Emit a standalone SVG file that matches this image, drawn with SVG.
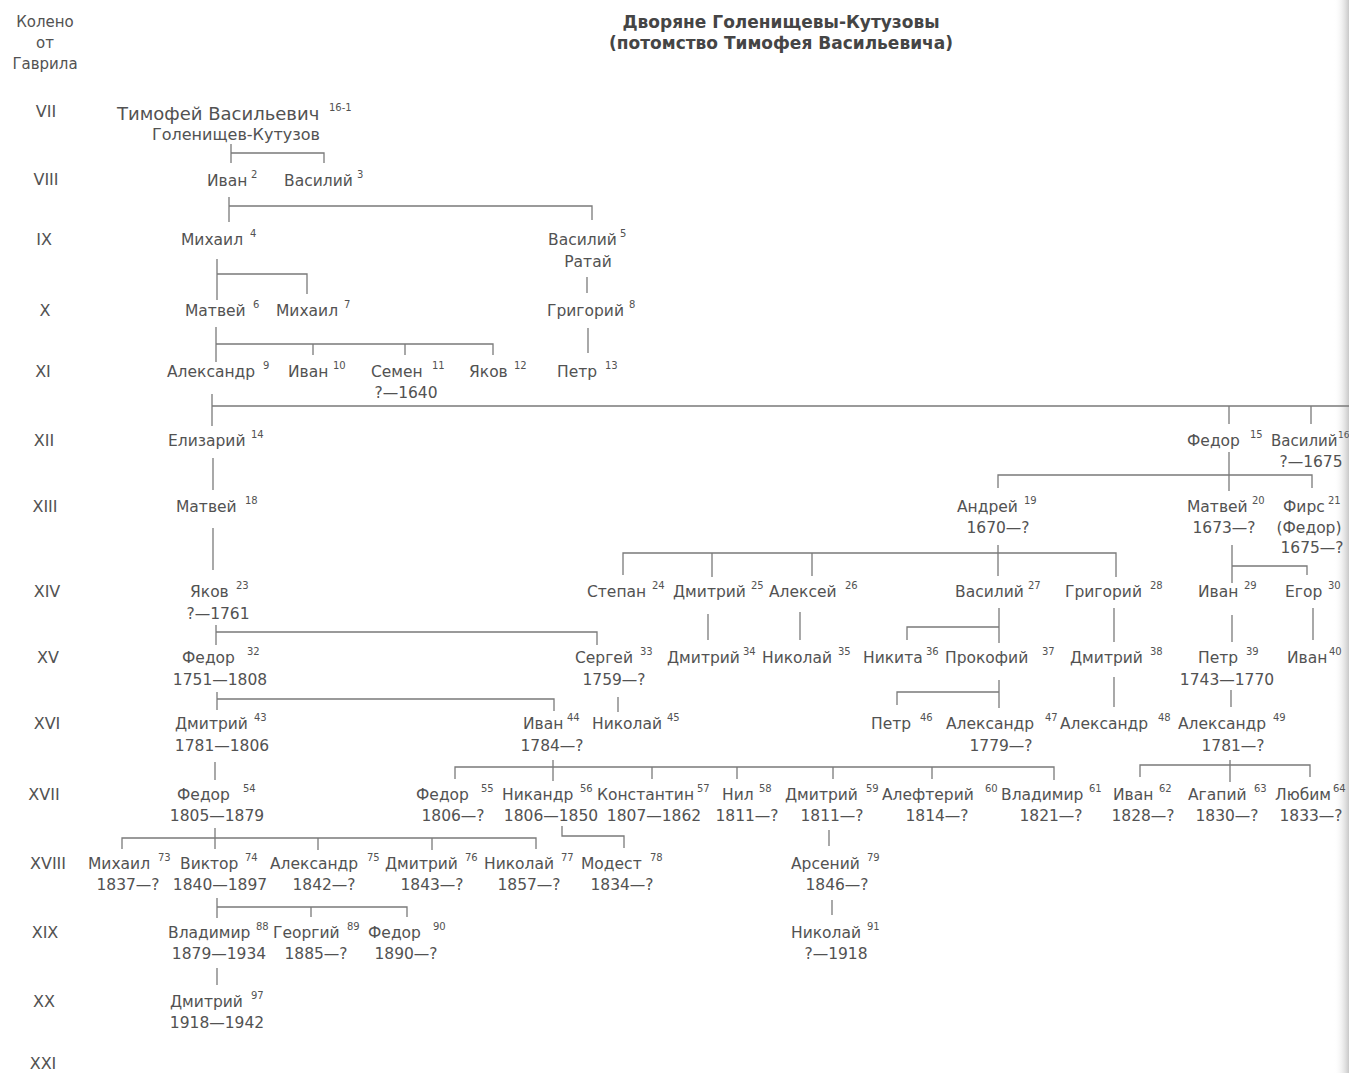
<svg xmlns="http://www.w3.org/2000/svg" width="1349" height="1073" viewBox="0 0 1349 1073">
<defs>
<style>
text{font-family:"DejaVu Sans","Liberation Sans",sans-serif;fill:#525252}
.nm{font-size:15.5px}
.dt{font-size:15.5px;text-anchor:middle}
.sp{font-size:10px}
.gen{font-size:16px;text-anchor:middle}
.hd{font-size:15px;text-anchor:middle}
.ttl{font-size:17px;font-weight:bold;text-anchor:middle;fill:#454545}
.ln{fill:none;stroke:#7a7a7a;stroke-width:1.3}
</style>
<linearGradient id="edge" x1="0" y1="0" x2="1" y2="0">
<stop offset="0" stop-color="#ffffff" stop-opacity="0"/>
<stop offset="1" stop-color="#c8c8c8"/>
</linearGradient>
</defs>
<rect width="1349" height="1073" fill="#ffffff"/>
<rect x="1334" y="0" width="15" height="1073" fill="url(#edge)"/>

<g id="title">
<text class="ttl" x="781" y="28">Дворяне Голенищевы-Кутузовы</text>
<text class="ttl" x="781" y="49">(потомство Тимофея Васильевича)</text>
</g>

<g id="generations">
<text class="hd" x="45" y="27">Колено</text>
<text class="hd" x="45" y="48">от</text>
<text class="hd" x="45" y="69">Гаврила</text>
<text class="gen" x="46" y="117">VII</text>
<text class="gen" x="46" y="185">VIII</text>
<text class="gen" x="44" y="245">IX</text>
<text class="gen" x="45" y="316">X</text>
<text class="gen" x="43" y="377">XI</text>
<text class="gen" x="44" y="446">XII</text>
<text class="gen" x="45" y="512">XIII</text>
<text class="gen" x="47" y="597">XIV</text>
<text class="gen" x="48" y="663">XV</text>
<text class="gen" x="47" y="729">XVI</text>
<text class="gen" x="44" y="800">XVII</text>
<text class="gen" x="48" y="869">XVIII</text>
<text class="gen" x="45" y="938">XIX</text>
<text class="gen" x="44" y="1007">XX</text>
<text class="gen" x="43" y="1069">XXI</text>
</g>

<g id="connectors">
<path class="ln" d="M231,144V163M231,153H324V163"/>
<path class="ln" d="M229,197V222M229,206H592V220"/>
<path class="ln" d="M217,259V300M217,274H307V294"/>
<path class="ln" d="M587,277V293"/>
<path class="ln" d="M216,327V362M216,344H493V355M313,344V355M405,344V355"/>
<path class="ln" d="M588,328V353"/>
<path class="ln" d="M212,394V426M212,406H1349M1229,406V424M1311,406V424"/>
<path class="ln" d="M213,458V490"/>
<path class="ln" d="M1229,452V491M998,488V475H1312V488"/>
<path class="ln" d="M213,528V570"/>
<path class="ln" d="M998,545V576M623,575V553H1116V577M712,553V577M812,553V576"/>
<path class="ln" d="M1232,545V583M1232,566H1307V575"/>
<path class="ln" d="M216,625V645M216,632H597V645"/>
<path class="ln" d="M708,614V640"/>
<path class="ln" d="M800,612V640"/>
<path class="ln" d="M999,608V643M907,640V627H999"/>
<path class="ln" d="M1114,608V642"/>
<path class="ln" d="M1232,615V642"/>
<path class="ln" d="M1313,608V640"/>
<path class="ln" d="M217,692V710M217,699H554V711"/>
<path class="ln" d="M618,697V712"/>
<path class="ln" d="M999,680V708M897,705V692H999"/>
<path class="ln" d="M1114,677V707"/>
<path class="ln" d="M1231,690V707"/>
<path class="ln" d="M215,762V780"/>
<path class="ln" d="M553,760V781M455,779V767H1054V780M652,767V779M737,767V779M833,767V779M932,767V779"/>
<path class="ln" d="M1230,760V782M1140,777V765H1310V777"/>
<path class="ln" d="M215,828V849M122,849V838H536V849M318,838V850M432,838V850"/>
<path class="ln" d="M562,826V836H624V848"/>
<path class="ln" d="M829,830V846"/>
<path class="ln" d="M217,898V918M217,907H407V917M311,907V917"/>
<path class="ln" d="M832,900V915"/>
<path class="ln" d="M217,968V985"/>
</g>

<g id="n1"><text x="117" y="120" style="font-size:18px">Тимофей Васильевич</text><text class="sp" x="329" y="111">16-1</text><text x="152" y="140" style="font-size:16px">Голенищев-Кутузов</text></g>

<g id="n2"><text class="nm" x="207" y="186">Иван</text><text class="sp" x="251" y="178">2</text></g>
<g id="n3"><text class="nm" x="284" y="186">Василий</text><text class="sp" x="357" y="178">3</text></g>

<g id="n4"><text class="nm" x="181" y="245">Михаил</text><text class="sp" x="250" y="237">4</text></g>
<g id="n5"><text class="nm" x="548" y="245">Василий</text><text class="sp" x="620" y="237">5</text><text class="dt" x="588" y="267">Ратай</text></g>

<g id="n6"><text class="nm" x="185" y="316">Матвей</text><text class="sp" x="253" y="308">6</text></g>
<g id="n7"><text class="nm" x="276" y="316">Михаил</text><text class="sp" x="344" y="308">7</text></g>
<g id="n8"><text class="nm" x="547" y="316">Григорий</text><text class="sp" x="629" y="308">8</text></g>

<g id="n9"><text class="nm" x="167" y="377">Александр</text><text class="sp" x="263" y="369">9</text></g>
<g id="n10"><text class="nm" x="288" y="377">Иван</text><text class="sp" x="333" y="369">10</text></g>
<g id="n11"><text class="nm" x="371" y="377">Семен</text><text class="sp" x="432" y="369">11</text><text class="dt" x="406" y="398">?—1640</text></g>
<g id="n12"><text class="nm" x="469" y="377">Яков</text><text class="sp" x="514" y="369">12</text></g>
<g id="n13"><text class="nm" x="557" y="377">Петр</text><text class="sp" x="605" y="369">13</text></g>

<g id="n14"><text class="nm" x="168" y="446">Елизарий</text><text class="sp" x="251" y="438">14</text></g>
<g id="n15"><text class="nm" x="1187" y="446">Федор</text><text class="sp" x="1250" y="438">15</text></g>
<g id="n16"><text x="1271" y="446" style="font-size:15px">Василий</text><text class="sp" x="1338" y="438" style="font-size:9px">16</text><text class="dt" x="1311" y="467">?—1675</text></g>

<g id="n18"><text class="nm" x="176" y="512">Матвей</text><text class="sp" x="245" y="504">18</text></g>
<g id="n19"><text class="nm" x="957" y="512">Андрей</text><text class="sp" x="1024" y="504">19</text><text class="dt" x="998" y="533">1670—?</text></g>
<g id="n20"><text class="nm" x="1187" y="512">Матвей</text><text class="sp" x="1252" y="504">20</text><text class="dt" x="1224" y="533">1673—?</text></g>
<g id="n21"><text class="nm" x="1283" y="512">Фирс</text><text class="sp" x="1328" y="504">21</text><text class="dt" x="1309" y="533">(Федор)</text><text class="dt" x="1312" y="553">1675—?</text></g>

<g id="n23"><text class="nm" x="190" y="597">Яков</text><text class="sp" x="236" y="589">23</text><text class="dt" x="218" y="619">?—1761</text></g>
<g id="n24"><text class="nm" x="587" y="597">Степан</text><text class="sp" x="652" y="589">24</text></g>
<g id="n25"><text class="nm" x="673" y="597">Дмитрий</text><text class="sp" x="751" y="589">25</text></g>
<g id="n26"><text class="nm" x="769" y="597">Алексей</text><text class="sp" x="845" y="589">26</text></g>
<g id="n27"><text class="nm" x="955" y="597">Василий</text><text class="sp" x="1028" y="589">27</text></g>
<g id="n28"><text class="nm" x="1065" y="597">Григорий</text><text class="sp" x="1150" y="589">28</text></g>
<g id="n29"><text class="nm" x="1198" y="597">Иван</text><text class="sp" x="1244" y="589">29</text></g>
<g id="n30"><text class="nm" x="1285" y="597">Егор</text><text class="sp" x="1328" y="589">30</text></g>

<g id="n32"><text class="nm" x="182" y="663">Федор</text><text class="sp" x="247" y="655">32</text><text class="dt" x="220" y="685">1751—1808</text></g>
<g id="n33"><text class="nm" x="575" y="663">Сергей</text><text class="sp" x="640" y="655">33</text><text class="dt" x="614" y="685">1759—?</text></g>
<g id="n34"><text class="nm" x="667" y="663">Дмитрий</text><text class="sp" x="743" y="655">34</text></g>
<g id="n35"><text class="nm" x="762" y="663">Николай</text><text class="sp" x="838" y="655">35</text></g>
<g id="n36"><text class="nm" x="863" y="663">Никита</text><text class="sp" x="926" y="655">36</text></g>
<g id="n37"><text class="nm" x="945" y="663">Прокофий</text><text class="sp" x="1042" y="655">37</text></g>
<g id="n38"><text class="nm" x="1070" y="663">Дмитрий</text><text class="sp" x="1150" y="655">38</text></g>
<g id="n39"><text class="nm" x="1198" y="663">Петр</text><text class="sp" x="1246" y="655">39</text><text class="dt" x="1227" y="685">1743—1770</text></g>
<g id="n40"><text class="nm" x="1287" y="663">Иван</text><text class="sp" x="1329" y="655">40</text></g>

<g id="n43"><text class="nm" x="175" y="729">Дмитрий</text><text class="sp" x="254" y="721">43</text><text class="dt" x="222" y="751">1781—1806</text></g>
<g id="n44"><text class="nm" x="523" y="729">Иван</text><text class="sp" x="567" y="721">44</text><text class="dt" x="552" y="751">1784—?</text></g>
<g id="n45"><text class="nm" x="592" y="729">Николай</text><text class="sp" x="667" y="721">45</text></g>
<g id="n46"><text class="nm" x="871" y="729">Петр</text><text class="sp" x="920" y="721">46</text></g>
<g id="n47"><text class="nm" x="946" y="729">Александр</text><text class="sp" x="1045" y="721">47</text><text class="dt" x="1001" y="751">1779—?</text></g>
<g id="n48"><text class="nm" x="1060" y="729">Александр</text><text class="sp" x="1158" y="721">48</text></g>
<g id="n49"><text class="nm" x="1178" y="729">Александр</text><text class="sp" x="1273" y="721">49</text><text class="dt" x="1233" y="751">1781—?</text></g>

<g id="n54"><text class="nm" x="177" y="800">Федор</text><text class="sp" x="243" y="792">54</text><text class="dt" x="217" y="821">1805—1879</text></g>
<g id="n55"><text class="nm" x="416" y="800">Федор</text><text class="sp" x="481" y="792">55</text><text class="dt" x="453" y="821">1806—?</text></g>
<g id="n56"><text class="nm" x="502" y="800">Никандр</text><text class="sp" x="580" y="792">56</text><text class="dt" x="551" y="821">1806—1850</text></g>
<g id="n57"><text class="nm" x="597" y="800">Константин</text><text class="sp" x="697" y="792">57</text><text class="dt" x="654" y="821">1807—1862</text></g>
<g id="n58"><text class="nm" x="722" y="800">Нил</text><text class="sp" x="759" y="792">58</text><text class="dt" x="747" y="821">1811—?</text></g>
<g id="n59"><text class="nm" x="785" y="800">Дмитрий</text><text class="sp" x="866" y="792">59</text><text class="dt" x="832" y="821">1811—?</text></g>
<g id="n60"><text class="nm" x="882" y="800">Алефтерий</text><text class="sp" x="985" y="792">60</text><text class="dt" x="937" y="821">1814—?</text></g>
<g id="n61"><text class="nm" x="1001" y="800">Владимир</text><text class="sp" x="1089" y="792">61</text><text class="dt" x="1051" y="821">1821—?</text></g>
<g id="n62"><text class="nm" x="1113" y="800">Иван</text><text class="sp" x="1159" y="792">62</text><text class="dt" x="1143" y="821">1828—?</text></g>
<g id="n63"><text class="nm" x="1188" y="800">Агапий</text><text class="sp" x="1254" y="792">63</text><text class="dt" x="1227" y="821">1830—?</text></g>
<g id="n64"><text class="nm" x="1275" y="800">Любим</text><text class="sp" x="1333" y="792">64</text><text class="dt" x="1311" y="821">1833—?</text></g>

<g id="n73"><text class="nm" x="88" y="869">Михаил</text><text class="sp" x="158" y="861">73</text><text class="dt" x="128" y="890">1837—?</text></g>
<g id="n74"><text class="nm" x="180" y="869">Виктор</text><text class="sp" x="245" y="861">74</text><text class="dt" x="220" y="890">1840—1897</text></g>
<g id="n75"><text class="nm" x="270" y="869">Александр</text><text class="sp" x="367" y="861">75</text><text class="dt" x="324" y="890">1842—?</text></g>
<g id="n76"><text class="nm" x="385" y="869">Дмитрий</text><text class="sp" x="465" y="861">76</text><text class="dt" x="432" y="890">1843—?</text></g>
<g id="n77"><text class="nm" x="484" y="869">Николай</text><text class="sp" x="561" y="861">77</text><text class="dt" x="529" y="890">1857—?</text></g>
<g id="n78"><text class="nm" x="581" y="869">Модест</text><text class="sp" x="650" y="861">78</text><text class="dt" x="622" y="890">1834—?</text></g>
<g id="n79"><text class="nm" x="791" y="869">Арсений</text><text class="sp" x="867" y="861">79</text><text class="dt" x="837" y="890">1846—?</text></g>

<g id="n88"><text class="nm" x="168" y="938">Владимир</text><text class="sp" x="256" y="930">88</text><text class="dt" x="219" y="959">1879—1934</text></g>
<g id="n89"><text class="nm" x="273" y="938">Георгий</text><text class="sp" x="347" y="930">89</text><text class="dt" x="316" y="959">1885—?</text></g>
<g id="n90"><text class="nm" x="368" y="938">Федор</text><text class="sp" x="433" y="930">90</text><text class="dt" x="406" y="959">1890—?</text></g>
<g id="n91"><text class="nm" x="791" y="938">Николай</text><text class="sp" x="867" y="930">91</text><text class="dt" x="836" y="959">?—1918</text></g>

<g id="n97"><text class="nm" x="170" y="1007">Дмитрий</text><text class="sp" x="251" y="999">97</text><text class="dt" x="217" y="1028">1918—1942</text></g>
</svg>
